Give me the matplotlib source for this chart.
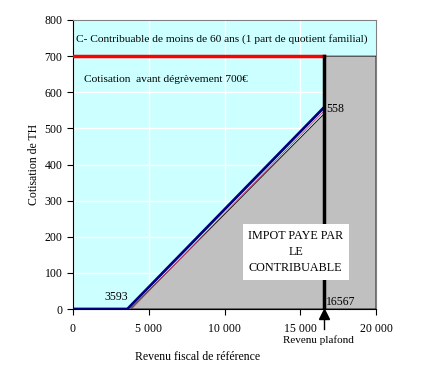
import matplotlib.pyplot as plt
from matplotlib.ticker import FuncFormatter

# donnees
revenu = [0, 3593, 16567]
cotisation = [0, 0, 558]
plafond = 16567
cotisation_max = 700
zone_grise_x = [3800, 16567, 16567, 20000, 20000]
zone_grise_y = [0, 540, 700, 700, 0]

plt.rcParams['font.family'] = ['Liberation Serif', 'DejaVu Serif']

fig = plt.figure(figsize=(4.25, 3.85), dpi=100)
ax = fig.add_axes([73/425, 1-309/385, 303/425, 289/385])
ax.set_facecolor('#CCFFFF')

ax.set_xlim(0, 20000)
ax.set_ylim(0, 800)
ax.set_xticks([0, 5000, 10000, 15000, 20000])
ax.set_yticks(range(0, 801, 100))
ax.xaxis.set_major_formatter(FuncFormatter(lambda v, p: '{:,.0f}'.format(v).replace(',', ' ')))
ax.grid(color='white', lw=1)
ax.set_axisbelow(True)
ax.tick_params(labelsize=8.5, direction='out', length=4, color='black')
ax.tick_params(axis='x', pad=6)

for s in ['top', 'right']:
    ax.spines[s].set_color('gray')
ax.spines['left'].set_color('black')
ax.spines['bottom'].set_color('black')

# zone impot paye
ax.fill(zone_grise_x, zone_grise_y, facecolor='#C0C0C0', edgecolor='black', lw=0.6, zorder=2)
ax.plot(revenu, cotisation, color='#000080', lw=2, zorder=3, solid_capstyle='butt')
ax.plot([revenu[1] + 120, revenu[2]], [-6, cotisation[2] - 10], color='#CC3366', lw=0.6, zorder=3)
ax.plot([0, plafond], [cotisation_max, cotisation_max], color='red', lw=2.5, zorder=4)
ax.plot([plafond, plafond], [0, cotisation_max], color='black', lw=2.5, zorder=4)

ax.text(200, 748, 'C- Contribuable de moins de 60 ans (1 part de quotient familial)',
        fontsize=8.2, va='center')
ax.text(700, 635, 'Cotisation  avant dégrèvement 700€', fontsize=8.2, va='center')
ax.text(16700, 553, '558', fontsize=8.5, va='center')
ax.text(2100, 32, '3593', fontsize=8.5, va='center')
ax.text(16700, 20, '16567', fontsize=8.5, va='center')
ax.text(14700, 158, 'IMPOT PAYE PAR\nLE\nCONTRIBUABLE', fontsize=8.7, ha='center', va='center',
        linespacing=1.45, bbox=dict(facecolor='white', edgecolor='none', pad=4), zorder=5)

ax.set_ylabel('Cotisation de TH', fontsize=8.5, labelpad=3)

# fleche revenu plafond
ax.plot([plafond], [-15], marker='^', color='black', markersize=7, clip_on=False, zorder=6)
ax.plot([plafond, plafond], [-15, -55], color='black', lw=1, clip_on=False)
fig.text(318/425, 1-340/385, 'Revenu plafond', fontsize=8, ha='center', va='center')
fig.text(198/425, 1-357/385, 'Revenu fiscal de référence', fontsize=8.5, ha='center', va='center')

fig.savefig('out.png', dpi=100)
